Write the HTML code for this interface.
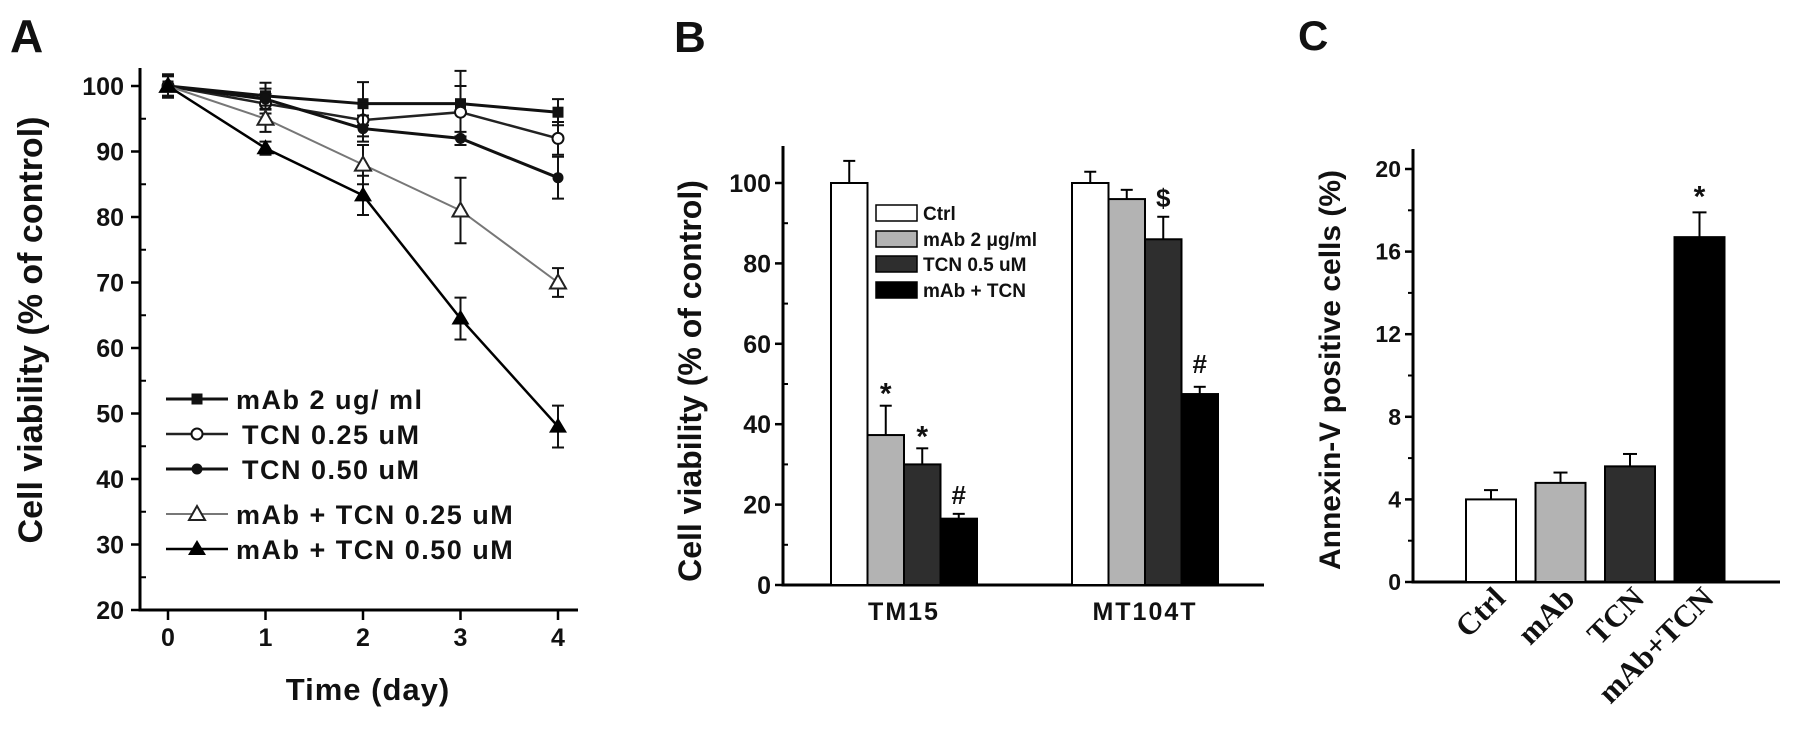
<!DOCTYPE html>
<html><head><meta charset="utf-8"><style>
html,body{margin:0;padding:0;background:#fff;}
svg{display:block;}
text{font-family:"Liberation Sans",Arial,sans-serif;font-weight:bold;fill:#111;}
.serif{font-family:"Liberation Serif","Times New Roman",serif;}
</style></head><body>
<svg id="fig" width="1795" height="736" viewBox="0 0 1795 736" xmlns="http://www.w3.org/2000/svg">
<g id="pa"></g>
<g id="pb"></g>
<g id="pc"></g>
</svg>
<script>
// ---------- Panel A data ----------
const daysA = [0,1,2,3,4];
const yTicksA = [20,30,40,50,60,70,80,90,100];
const seriesNamesA = ["mAb 2 ug/ ml","TCN 0.25 uM","TCN 0.50 uM","mAb + TCN 0.25 uM","mAb + TCN 0.50 uM"];
const mAbVals = [100,98.5,97.3,97.3,96];
const mAbErr = [1.8,2,3.3,5,2];
const tcn25Vals = [100,97.3,94.8,96,92];
const tcn25Err = [1.5,1.5,2.5,4,2.5];
const tcn50Vals = [100,98,93.5,92,86];
const tcn50Err = [1.5,1.6,2,1,3.2];
const combo25Vals = [100,95,88,81,70];
const combo25Err = [1.5,2,3,5,2.2];
const combo50Vals = [100,90.5,83.3,64.5,48];
const combo50Err = [1.5,1,3,3.2,3.2];
// ---------- Panel B data ----------
const groupsB = ["TM15","MT104T"];
const legendB = ["Ctrl","mAb 2 μg/ml","TCN 0.5 uM","mAb + TCN"];
const ctrlB = [100,100];
const ctrlBErr = [5.5,2.8];
const mAbB = [37.3,96];
const mAbBErr = [7.3,2.3];
const tcnB = [30,86];
const tcnBErr = [4,5.6];
const comboB = [16.5,47.5];
const comboBErr = [1.2,1.8];
const yTicksB = [0,20,40,60,80,100];
// ---------- Panel C data ----------
const catsC = ["Ctrl","mAb","TCN","mAb+TCN"];
const valsC = [4,4.8,5.6,16.7];
const errC = [0.45,0.5,0.6,1.2];
const yTicksC = [0,4,8,12,16,20];

const NS="http://www.w3.org/2000/svg";
function mk(parent,tag,attrs,txt){const e=document.createElementNS(NS,tag);for(const k in attrs)e.setAttribute(k,attrs[k]);if(txt!==undefined)e.textContent=txt;parent.appendChild(e);return e;}

// ===== Panel A =====
(function(){
const g=document.getElementById('pa');
const xA=d=>168+d*97.5;
const yA=v=>610-(v-20)*6.55;
let t=mk(g,'text',{x:10,y:52,'font-size':46},'A');


let ax=mk(g,'path',{d:`M140 68 V610 H578`,stroke:'#000','stroke-width':3,fill:'none'});


yTicksA.forEach(v=>{
 mk(g,'line',{x1:131,x2:140,y1:yA(v),y2:yA(v),stroke:'#000','stroke-width':2.5});
 if(v<100) mk(g,'line',{x1:140,x2:146,y1:yA(v+5),y2:yA(v+5),stroke:'#000','stroke-width':2});
 let l=mk(g,'text',{x:124,y:yA(v)+9,'font-size':25,'text-anchor':'end'},v);
 
 
});
daysA.forEach(d=>{
 mk(g,'line',{x1:xA(d),x2:xA(d),y1:610,y2:620,stroke:'#000','stroke-width':2.5});
 let l=mk(g,'text',{x:xA(d),y:646,'font-size':25,'text-anchor':'middle'},d);
 
 
});
let yt=mk(g,'text',{x:0,y:0,'font-size':34,'text-anchor':'middle',transform:'translate(42,330) rotate(-90)'},'Cell viability (% of control)');


let xt=mk(g,'text',{x:368,y:700,'font-size':31,'text-anchor':'middle','letter-spacing':1},'Time (day)');


const series=[
 {v:mAbVals,e:mAbErr,m:'sq',c:'#111',w:3},
 {v:tcn25Vals,e:tcn25Err,m:'oc',c:'#222',w:2.5},
 {v:tcn50Vals,e:tcn50Err,m:'fc',c:'#111',w:3},
 {v:combo25Vals,e:combo25Err,m:'ot',c:'#777',w:2},
 {v:combo50Vals,e:combo50Err,m:'ft',c:'#000',w:2.5}];
function marker(p,type,x,y){
 let e;
 if(type==='sq') e=mk(p,'rect',{x:x-5.5,y:y-5.5,width:11,height:11,fill:'#111'});
 else if(type==='oc') e=mk(p,'circle',{cx:x,cy:y,r:5.5,fill:'#fff',stroke:'#111','stroke-width':2});
 else if(type==='fc') e=mk(p,'circle',{cx:x,cy:y,r:5.5,fill:'#111'});
 else if(type==='ot') e=mk(p,'path',{d:`M${x} ${y-8} L${x+8} ${y+6} L${x-8} ${y+6}Z`,fill:'#fff',stroke:'#222','stroke-width':2});
 else e=mk(p,'path',{d:`M${x} ${y-9} L${x+9} ${y+6} L${x-9} ${y+6}Z`,fill:'#000'});
 return e;
}
series.forEach((s,i)=>{
 const sg=mk(g,'g',{});
 
 
 let pts=s.v.map((v,j)=>xA(daysA[j])+','+yA(v)).join(' ');
 mk(sg,'polyline',{points:pts,fill:'none',stroke:s.c,'stroke-width':s.w});
 s.v.forEach((v,j)=>{
  const x=xA(daysA[j]),y1=yA(v+s.e[j]),y2=yA(v-s.e[j]);
  mk(sg,'path',{d:`M${x} ${y1} V${y2} M${x-6} ${y1} H${x+6} M${x-6} ${y2} H${x+6}`,stroke:'#111','stroke-width':2,fill:'none'});
  let m=marker(sg,s.m,x,yA(v));
  
  
 });
});
const rows=[399,434,469,514,549];
series.forEach((s,i)=>{
 const lg=mk(g,'g',{});
 
 
 mk(lg,'line',{x1:166,x2:228,y1:rows[i],y2:rows[i],stroke:s.c,'stroke-width':s.w});
 marker(lg,s.m,197,rows[i]);
 const tx = i===1||i===2 ? 242 : 236;
 mk(lg,'text',{x:tx,y:rows[i]+10,'font-size':27,'letter-spacing':1.5},seriesNamesA[i]);
});
})();

// ===== Panel B =====
(function(){
const g=document.getElementById('pb');
const yB=v=>585-v*4.02;
let t=mk(g,'text',{x:674,y:52,'font-size':44},'B');


let ax=mk(g,'path',{d:'M783 146 V585 H1264',stroke:'#000','stroke-width':3,fill:'none'});


yTicksB.forEach(v=>{
 mk(g,'line',{x1:775,x2:783,y1:yB(v),y2:yB(v),stroke:'#000','stroke-width':2.5});
 if(v<100) mk(g,'line',{x1:783,x2:788,y1:yB(v+10),y2:yB(v+10),stroke:'#000','stroke-width':2});
 let l=mk(g,'text',{x:771,y:yB(v)+9,'font-size':25,'text-anchor':'end'},v);
 
 
});
let yt=mk(g,'text',{x:0,y:0,'font-size':32,'text-anchor':'middle',transform:'translate(701,381) rotate(-90)'},'Cell viability (% of control)');


const fills=['#fff','#b3b3b3','#2e2e2e','#000'];
const vals=[ctrlB,mAbB,tcnB,comboB], errs=[ctrlBErr,mAbBErr,tcnBErr,comboBErr];
const groupStart=[831,1072], bw=36.5;
groupsB.forEach((gname,gi)=>{
 for(let k=0;k<4;k++){
  const x=groupStart[gi]+k*bw, v=vals[k][gi], e=errs[k][gi];
  mk(g,'line',{x1:x+bw/2,x2:x+bw/2,y1:yB(v),y2:yB(v+e),stroke:'#000','stroke-width':2});
  mk(g,'line',{x1:x+bw/2-6,x2:x+bw/2+6,y1:yB(v+e),y2:yB(v+e),stroke:'#000','stroke-width':2});
  let b=mk(g,'rect',{x:x,y:yB(v),width:bw,height:585-yB(v),fill:fills[k],stroke:'#000','stroke-width':2});
  
  
 }
 let l=mk(g,'text',{x:groupStart[gi]+2*bw,y:620,'font-size':25,'text-anchor':'middle','letter-spacing':2},gname);
 
 
});
const ann=[['*',0,1,10],['*',0,2,10],['#',0,3,10],['$',1,2,10],['#',1,3,14]];
ann.forEach(a=>{
 const x=groupStart[a[1]]+a[2]*bw+bw/2, v=vals[a[2]][a[1]]+errs[a[2]][a[1]];
 let s=mk(g,'text',{x:x,y:yB(v)-a[3],'font-size':a[0]==='*'?30:26,'text-anchor':'middle'},a[0]);
 if(a[0]==='*') s.setAttribute('y',yB(v)-a[3]+8);
 
 
});
const lrows=[213,239,264,290];
legendB.forEach((n,i)=>{
 const lg=mk(g,'g',{});
 
 
 mk(lg,'rect',{x:876,y:lrows[i]-8,width:41,height:16,fill:fills[i],stroke:'#000','stroke-width':1.5});
 mk(lg,'text',{x:923,y:lrows[i]+7,'font-size':19},n);
});
})();

// ===== Panel C =====
(function(){
const g=document.getElementById('pc');
const yC=v=>582-v*20.65;
let t=mk(g,'text',{x:1298,y:50,'font-size':42},'C');


let ax=mk(g,'path',{d:'M1413 149 V582 H1780',stroke:'#000','stroke-width':3,fill:'none'});


yTicksC.forEach(v=>{
 mk(g,'line',{x1:1405,x2:1413,y1:yC(v),y2:yC(v),stroke:'#000','stroke-width':2.5});
 if(v<20) mk(g,'line',{x1:1408,x2:1413,y1:yC(v+2),y2:yC(v+2),stroke:'#000','stroke-width':2});
 let l=mk(g,'text',{x:1401,y:yC(v)+8,'font-size':23,'text-anchor':'end'},v);
 
 
});
let yt=mk(g,'text',{x:0,y:0,'font-size':30,'text-anchor':'middle',transform:'translate(1340,370) rotate(-90)'},'Annexin-V positive cells (%)');


const fills=['#fff','#b3b3b3','#2e2e2e','#000'];
catsC.forEach((c,i)=>{
 const x=1466+i*69.5, w=50, v=valsC[i], e=errC[i];
 mk(g,'line',{x1:x+w/2,x2:x+w/2,y1:yC(v),y2:yC(v+e),stroke:'#000','stroke-width':2});
 mk(g,'line',{x1:x+w/2-7,x2:x+w/2+7,y1:yC(v+e),y2:yC(v+e),stroke:'#000','stroke-width':2});
 let b=mk(g,'rect',{x:x,y:yC(v),width:w,height:582-yC(v),fill:fills[i],stroke:'#000','stroke-width':2});
 
 
 let l=mk(g,'text',{x:0,y:0,'font-size':31,'text-anchor':'end','class':'serif',transform:`translate(${x+w/2+16},${600}) rotate(-45)`},c);
 
 
});
let s=mk(g,'text',{x:1466+3*69.5+25,y:yC(valsC[3]+errC[3])-6,'font-size':30,'text-anchor':'middle'},'*');


})();
</script>
</body></html>
